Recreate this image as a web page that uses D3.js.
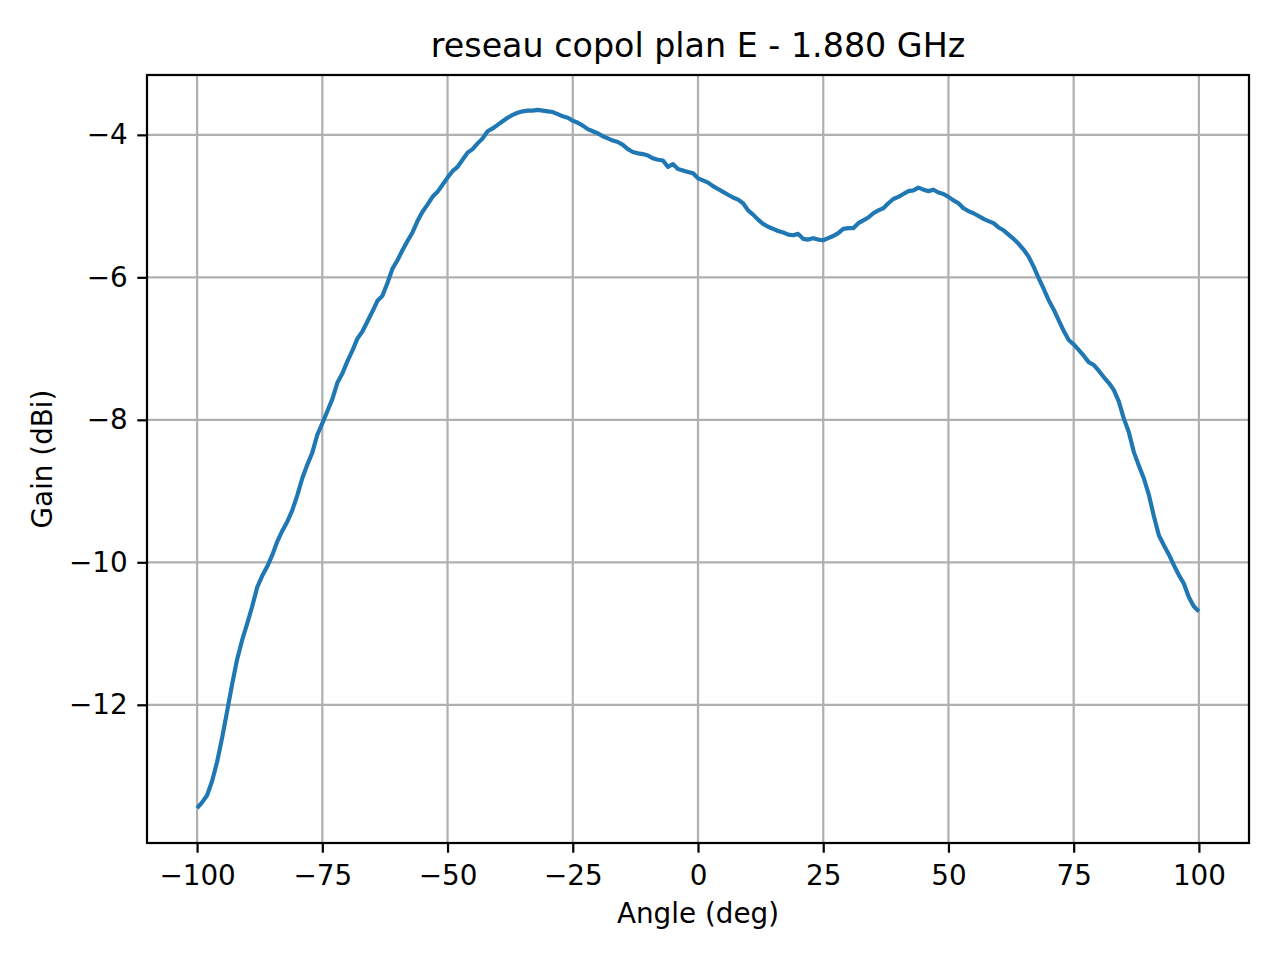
<!DOCTYPE html>
<html><head><meta charset="utf-8">
<script src="https://cdn.jsdelivr.net/npm/d3@7"></script>
<style>body{margin:0;background:#fff}svg{display:block}text{font-family:"DejaVu Sans",sans-serif}</style>
</head><body>
<script>
const angleStart = -100;
const gain = [
-13.45,-13.37,-13.27,-13.07,-12.80,-12.46,-12.09,-11.71,-11.36,-11.09,
-10.86,-10.62,-10.35,-10.19,-10.06,-9.90,-9.71,-9.56,-9.43,-9.27,
-9.06,-8.82,-8.63,-8.46,-8.21,-8.05,-7.88,-7.71,-7.48,-7.35,
-7.18,-7.03,-6.86,-6.76,-6.62,-6.48,-6.33,-6.26,-6.08,-5.88,
-5.76,-5.62,-5.49,-5.37,-5.21,-5.08,-4.98,-4.87,-4.80,-4.70,
-4.60,-4.51,-4.45,-4.35,-4.25,-4.20,-4.12,-4.05,-3.95,-3.91,
-3.86,-3.81,-3.76,-3.72,-3.69,-3.67,-3.66,-3.66,-3.65,-3.66,
-3.67,-3.68,-3.71,-3.74,-3.76,-3.80,-3.83,-3.87,-3.92,-3.95,
-3.98,-4.02,-4.05,-4.08,-4.10,-4.14,-4.20,-4.24,-4.26,-4.27,
-4.29,-4.33,-4.35,-4.36,-4.45,-4.41,-4.48,-4.50,-4.52,-4.54,
-4.61,-4.64,-4.67,-4.72,-4.76,-4.80,-4.84,-4.88,-4.91,-4.96,
-5.06,-5.12,-5.19,-5.25,-5.29,-5.32,-5.35,-5.37,-5.40,-5.41,
-5.39,-5.46,-5.47,-5.45,-5.47,-5.48,-5.45,-5.42,-5.38,-5.32,
-5.31,-5.31,-5.24,-5.20,-5.16,-5.10,-5.06,-5.03,-4.96,-4.90,
-4.87,-4.83,-4.79,-4.78,-4.74,-4.77,-4.79,-4.77,-4.81,-4.83,
-4.87,-4.92,-4.96,-5.03,-5.07,-5.10,-5.14,-5.18,-5.21,-5.24,
-5.30,-5.34,-5.40,-5.46,-5.53,-5.61,-5.71,-5.85,-6.01,-6.16,
-6.32,-6.45,-6.60,-6.75,-6.88,-6.94,-7.02,-7.10,-7.19,-7.23,
-7.31,-7.40,-7.48,-7.58,-7.74,-7.98,-8.17,-8.45,-8.64,-8.82,
-9.05,-9.35,-9.62,-9.76,-9.89,-10.04,-10.18,-10.30,-10.49,-10.62,
-10.69
];
const angles = gain.map((_, i) => angleStart + i);
const xTicks = [-100,-75,-50,-25,0,25,50,75,100];
const yTicks = [-12,-10,-8,-6,-4];
const title = "reseau copol plan E - 1.880 GHz";
const xLabel = "Angle (deg)";
const yLabel = "Gain (dBi)";

const W = 1280, H = 960;
const L = 147, R = 1249, T = 75, B = 843;
const data = angles.map((a, i) => ({a, g: gain[i]}));
const xmin = d3.min(angles), xmax = d3.max(angles);
const ymin = d3.min(gain), ymax = d3.max(gain);
const xm = (xmax - xmin) * 0.05, ym = (ymax - ymin) * 0.05;
const x = d3.scaleLinear().domain([xmin - xm, xmax + xm]).range([L, R]);
const y = d3.scaleLinear().domain([ymin - ym, ymax + ym]).range([B, T]);
const fmt = v => (v < 0 ? "\u2212" : "") + Math.abs(v);

const svg = d3.select("body").append("svg").attr("width", W).attr("height", H);
const fs = 27.8, lw = 2.22;

// grid
svg.append("g").selectAll("line").data(xTicks).join("line")
  .attr("x1", d => x(d)).attr("x2", d => x(d)).attr("y1", T).attr("y2", B)
  .attr("stroke", "#b0b0b0").attr("stroke-width", lw);
svg.append("g").selectAll("line").data(yTicks).join("line")
  .attr("y1", d => y(d)).attr("y2", d => y(d)).attr("x1", L).attr("x2", R)
  .attr("stroke", "#b0b0b0").attr("stroke-width", lw);

// line
svg.append("clipPath").attr("id", "c").append("rect")
  .attr("x", L).attr("y", T).attr("width", R - L).attr("height", B - T);
svg.append("path").datum(data)
  .attr("clip-path", "url(#c)")
  .attr("d", d3.line().x(d => x(d.a)).y(d => y(d.g)))
  .attr("fill", "none").attr("stroke", "#1f77b4").attr("stroke-width", 4.17)
  .attr("stroke-linejoin", "round").attr("stroke-linecap", "butt");

// axes
const xAxis = d3.axisBottom(x).tickValues(xTicks).tickFormat(fmt).tickSize(9.7).tickPadding(12.5);
const yAxis = d3.axisLeft(y).tickValues(yTicks).tickFormat(fmt).tickSize(9.7).tickPadding(9.7);
const gx = svg.append("g").attr("transform", `translate(0,${B})`).call(xAxis);
const gy = svg.append("g").attr("transform", `translate(${L},0)`).call(yAxis);
[gx, gy].forEach(g => {
  g.select(".domain").remove();
  g.selectAll(".tick line").attr("stroke", "#000").attr("stroke-width", lw);
  g.selectAll(".tick text").attr("font-size", fs).attr("fill", "#000")
   .attr("font-family", "DejaVu Sans");
});

// spines
svg.append("rect").attr("x", L).attr("y", T).attr("width", R - L).attr("height", B - T)
  .attr("fill", "none").attr("stroke", "#000").attr("stroke-width", lw);

// labels
svg.append("text").attr("x", (L + R) / 2).attr("y", 57).attr("text-anchor", "middle")
  .attr("font-size", 33.3).text(title);
svg.append("text").attr("x", (L + R) / 2).attr("y", 923).attr("text-anchor", "middle")
  .attr("font-size", fs).text(xLabel);
svg.append("text").attr("transform", `translate(52,${(T + B) / 2}) rotate(-90)`)
  .attr("text-anchor", "middle").attr("font-size", fs).text(yLabel);
</script>
</body></html>
